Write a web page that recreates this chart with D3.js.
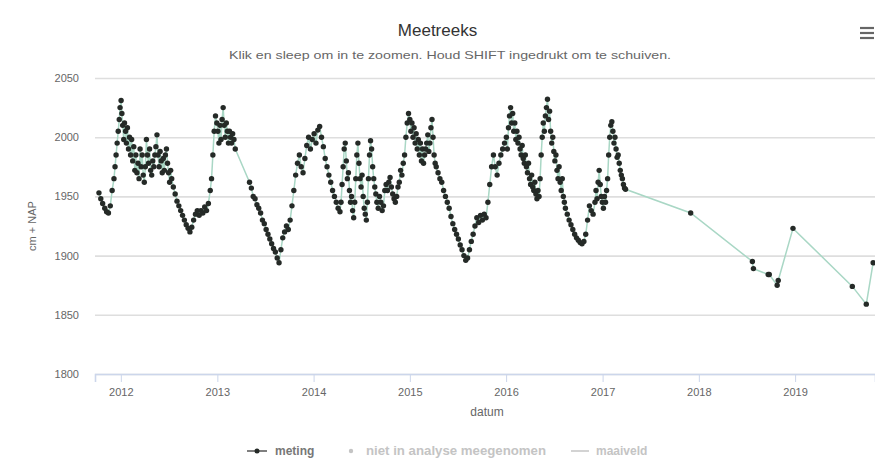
<!DOCTYPE html>
<html>
<head>
<meta charset="utf-8">
<script src="https://cdn.jsdelivr.net/npm/d3@7"></script>
<style>
html,body{margin:0;padding:0;background:#fff;}
svg{display:block;font-family:"Lucida Grande","Lucida Sans Unicode",Arial,Helvetica,sans-serif;}
</style>
</head>
<body>
<svg id="chart" width="875" height="472"></svg>
<script>
// ---- data ----
const chartTitle = "Meetreeks";
const chartSubtitle = "Klik en sleep om in te zoomen. Houd SHIFT ingedrukt om te schuiven.";
const yAxisTitle = "cm + NAP";
const xAxisTitle = "datum";
const legendLabels = ["meting", "niet in analyse meegenomen", "maaiveld"];
const yTicks = [1800, 1850, 1900, 1950, 2000, 2050];
const xTickYears = [2012, 2013, 2014, 2015, 2016, 2017, 2018, 2019];
const xDomain = ["2011-09-25", "2019-10-31"];

// meting: [datum, cm + NAP]
const meting2011_2012 = [
["2011-10-10",1953],["2011-10-17",1948],["2011-10-24",1944],["2011-11-01",1940],["2011-11-08",1937],
["2011-11-15",1936],["2011-11-22",1942],["2011-11-29",1955],["2011-12-06",1965],["2011-12-10",1975],
["2011-12-14",1985],["2011-12-18",1995],["2011-12-22",2005],["2011-12-26",2015],["2011-12-29",2025],
["2012-01-02",2031],["2012-01-05",2020],["2012-01-08",2010],["2012-01-12",1998],["2012-01-15",2012],
["2012-01-19",2005],["2012-01-22",1995],["2012-01-26",2008],["2012-01-30",1990],["2012-02-03",2000],
["2012-02-07",1985],["2012-02-11",1998],["2012-02-15",1980],["2012-02-19",1992],["2012-02-23",1972],
["2012-02-27",1985],["2012-03-02",1970],["2012-03-06",1978],["2012-03-10",1965],["2012-03-14",1990],
["2012-03-18",1975],["2012-03-22",1985],["2012-03-26",1968],["2012-03-30",1962],["2012-04-03",1975],
["2012-04-07",1998],["2012-04-11",1985],["2012-04-15",1978],["2012-04-19",1990],["2012-04-23",1972],
["2012-04-27",1968],["2012-05-01",1980],["2012-05-05",1975],["2012-05-09",1985],["2012-05-13",1992],
["2012-05-17",2002],["2012-05-21",1985],["2012-05-25",1975],["2012-05-29",1988],["2012-06-02",1980],
["2012-06-06",1970],["2012-06-10",1982],["2012-06-14",1972],["2012-06-18",1985],["2012-06-22",1990],
["2012-06-26",1978],["2012-06-30",1970],["2012-07-04",1962],["2012-07-08",1972],["2012-07-12",1965],
["2012-07-18",1958],["2012-07-25",1952],["2012-08-01",1946],["2012-08-08",1942],["2012-08-15",1938],
["2012-08-22",1934],["2012-08-29",1930],["2012-09-05",1926],["2012-09-12",1923],["2012-09-19",1920],
["2012-09-26",1924],["2012-10-03",1930],["2012-10-10",1935],["2012-10-17",1938],["2012-10-24",1934],
["2012-10-31",1938],["2012-11-07",1936],["2012-11-14",1941],["2012-11-21",1938],["2012-11-28",1944],
["2012-12-05",1955],["2012-12-10",1965],["2012-12-15",1985],["2012-12-20",2005],["2012-12-25",2018],
["2012-12-30",2012]
];
const meting2013_2014 = [
["2013-01-03",2005],["2013-01-07",1995],["2013-01-11",2010],["2013-01-15",1998],["2013-01-19",2015],
["2013-01-23",2025],["2013-01-27",2010],["2013-01-31",2000],["2013-02-04",2012],["2013-02-08",2005],
["2013-02-12",1995],["2013-02-16",2005],["2013-02-20",2000],["2013-02-24",1995],["2013-02-28",2003],
["2013-03-05",1998],["2013-03-10",1990],
["2013-05-03",1962],["2013-05-10",1957],["2013-05-17",1950],["2013-05-24",1948],["2013-05-31",1943],
["2013-06-07",1940],["2013-06-14",1936],["2013-06-21",1930],["2013-06-28",1927],["2013-07-05",1922],
["2013-07-12",1918],["2013-07-19",1914],["2013-07-26",1910],["2013-08-02",1906],["2013-08-09",1903],
["2013-08-16",1898],["2013-08-23",1894],["2013-08-30",1905],["2013-09-06",1915],["2013-09-13",1920],
["2013-09-20",1925],["2013-09-27",1922],["2013-10-04",1930],["2013-10-11",1942],["2013-10-18",1955],
["2013-10-25",1968],["2013-11-01",1978],["2013-11-08",1985],["2013-11-15",1975],["2013-11-22",1970],
["2013-11-29",1982],["2013-12-06",1993],["2013-12-13",2000],["2013-12-20",1990],["2013-12-27",1998],
["2014-01-03",2003],["2014-01-10",1995],["2014-01-17",2006],["2014-01-24",2009],["2014-01-31",2000],
["2014-02-07",1992],["2014-02-14",1982],["2014-02-21",1975],["2014-02-28",1968],["2014-03-07",1962],
["2014-03-14",1955],["2014-03-21",1950],["2014-03-28",1945],["2014-04-04",1940],["2014-04-11",1937],
["2014-04-15",1945],["2014-04-19",1960],["2014-04-23",1975],["2014-04-27",1990],["2014-05-01",1995],
["2014-05-05",1980],["2014-05-09",1965],["2014-05-13",1970],["2014-05-17",1955],["2014-05-21",1945],
["2014-05-25",1950],["2014-05-29",1938],["2014-06-02",1932],["2014-06-06",1945],["2014-06-10",1965],
["2014-06-14",1985],["2014-06-18",1995],["2014-06-22",1978],["2014-06-26",1965],["2014-06-30",1958],
["2014-07-04",1968],["2014-07-08",1950],["2014-07-12",1940],["2014-07-16",1935],["2014-07-20",1930],
["2014-07-24",1945],["2014-07-28",1965],["2014-08-01",1985],["2014-08-05",1997],["2014-08-09",1990],
["2014-08-13",1975],["2014-08-17",1965],["2014-08-21",1958],["2014-08-25",1952],["2014-08-29",1945],
["2014-09-03",1940],["2014-09-08",1950],["2014-09-13",1945],["2014-09-18",1938],["2014-09-23",1942],
["2014-09-28",1955],["2014-10-03",1960],["2014-10-08",1955],["2014-10-13",1962],["2014-10-18",1966],
["2014-10-23",1958],["2014-10-28",1952],["2014-11-02",1948],["2014-11-07",1945],["2014-11-12",1950],
["2014-11-17",1958],["2014-11-22",1962],["2014-11-27",1972],["2014-12-02",1968],["2014-12-07",1978],
["2014-12-12",1985],["2014-12-17",2000],["2014-12-22",2012],["2014-12-27",2020]
];
const meting2015_2016 = [
["2015-01-01",2015],["2015-01-05",2005],["2015-01-09",2012],["2015-01-13",2000],["2015-01-17",2008],
["2015-01-21",1995],["2015-01-25",2003],["2015-01-29",1990],["2015-02-02",1998],["2015-02-06",1985],
["2015-02-10",1995],["2015-02-14",1980],["2015-02-18",1990],["2015-02-22",1978],["2015-02-26",1985],
["2015-03-02",1990],["2015-03-06",1995],["2015-03-10",2002],["2015-03-14",1988],["2015-03-18",1995],
["2015-03-22",2008],["2015-03-26",2015],["2015-03-30",2000],["2015-04-03",1985],["2015-04-07",1978],
["2015-04-11",1975],["2015-04-18",1970],["2015-04-25",1965],["2015-05-02",1962],["2015-05-09",1955],
["2015-05-16",1950],["2015-05-23",1945],["2015-05-30",1940],["2015-06-06",1933],["2015-06-13",1927],
["2015-06-20",1922],["2015-06-27",1918],["2015-07-04",1914],["2015-07-11",1909],["2015-07-18",1905],
["2015-07-25",1900],["2015-08-01",1896],["2015-08-08",1898],["2015-08-15",1905],["2015-08-22",1912],
["2015-08-29",1918],["2015-09-05",1925],["2015-09-12",1932],["2015-09-19",1928],["2015-09-26",1934],
["2015-10-03",1930],["2015-10-10",1935],["2015-10-17",1932],["2015-10-24",1945],["2015-10-31",1960],
["2015-11-07",1975],["2015-11-14",1985],["2015-11-21",1975],["2015-11-28",1968],["2015-12-05",1978],
["2015-12-12",1985],["2015-12-19",1990],["2015-12-26",1995],
["2016-01-02",2000],["2016-01-06",1990],["2016-01-10",2008],["2016-01-14",2018],["2016-01-18",2025],
["2016-01-22",2012],["2016-01-26",2020],["2016-01-30",2005],["2016-02-03",2012],["2016-02-07",1998],
["2016-02-11",2005],["2016-02-15",1995],["2016-02-19",2000],["2016-02-23",1990],["2016-02-27",1985],
["2016-03-02",1993],["2016-03-06",1982],["2016-03-10",1978],["2016-03-14",1985],["2016-03-18",1975],
["2016-03-22",1970],["2016-03-26",1978],["2016-03-30",1965],["2016-04-03",1960],["2016-04-07",1968],
["2016-04-11",1958],["2016-04-15",1955],["2016-04-19",1962],["2016-04-23",1952],["2016-04-27",1948],
["2016-05-01",1955],["2016-05-05",1950],["2016-05-09",1965],["2016-05-13",1985],["2016-05-17",2000],
["2016-05-21",2012],["2016-05-25",2005],["2016-05-29",2018],["2016-06-02",2025],["2016-06-06",2032],
["2016-06-10",2015],["2016-06-14",2022],["2016-06-18",2005],["2016-06-22",1995],["2016-06-26",2000],
["2016-06-30",1988],["2016-07-04",1980],["2016-07-08",1985],["2016-07-12",1972],["2016-07-16",1965],
["2016-07-20",1975],["2016-07-24",1962],["2016-07-28",1955],["2016-08-01",1965],["2016-08-05",1950],
["2016-08-09",1945],["2016-08-13",1940],["2016-08-20",1935],["2016-08-27",1930],["2016-09-03",1926],
["2016-09-10",1922],["2016-09-17",1918],["2016-09-24",1915],["2016-10-01",1913],["2016-10-08",1911],
["2016-10-15",1910],["2016-10-22",1912],["2016-10-29",1918],["2016-11-05",1930],["2016-11-12",1942],
["2016-11-19",1938],["2016-11-26",1935],["2016-12-03",1945],["2016-12-07",1955],["2016-12-11",1948],
["2016-12-15",1962],["2016-12-19",1972],["2016-12-23",1960],["2016-12-27",1950],["2016-12-31",1945]
];
const meting2017_2019 = [
["2017-01-04",1940],["2017-01-08",1950],["2017-01-12",1945],["2017-01-16",1955],["2017-01-20",1965],
["2017-01-24",1985],["2017-01-28",2000],["2017-02-01",2010],["2017-02-05",2013],["2017-02-09",2005],
["2017-02-13",1995],["2017-02-17",2000],["2017-02-21",1990],["2017-02-25",1983],["2017-03-01",1985],
["2017-03-05",1978],["2017-03-09",1972],["2017-03-13",1968],["2017-03-17",1965],["2017-03-21",1960],
["2017-03-25",1957],["2017-03-29",1956],
["2017-12-01",1936],["2018-07-23",1895],["2018-07-27",1889],["2018-09-21",1884],["2018-09-25",1884],
["2018-10-25",1875],["2018-10-29",1879],["2018-12-24",1923],["2019-08-06",1874],["2019-09-28",1859],
["2019-10-24",1894]
];

// ---- colours / styles ----
const C = {
  title: "#333333", sub: "#666666", axisText: "#666666", grid: "#dedede",
  axisLine: "#ccd6eb", line: "#a9d7c5", marker: "#252a27",
  legendOn: "#777777", legendOff: "#c4c4c4"
};

const parse = d3.timeParse("%Y-%m-%d");
const meting = [...meting2011_2012, ...meting2013_2014, ...meting2015_2016, ...meting2017_2019]
  .map(d => ({ date: parse(d[0]), value: d[1] }));

const svg = d3.select("#chart");
const plot = { left: 95, right: 875, top: 78, bottom: 374 };

const x = d3.scaleTime().domain(xDomain.map(parse)).range([plot.left, plot.right]);
const y = d3.scaleLinear().domain([yTicks[0], yTicks[yTicks.length - 1]]).range([plot.bottom, plot.top]);

// title & subtitle
svg.append("text").attr("x", 437.5).attr("y", 36).attr("text-anchor", "middle")
  .attr("fill", C.title).attr("font-size", 17).text(chartTitle);
svg.append("text").attr("x", 450).attr("y", 59).attr("text-anchor", "middle")
  .attr("fill", C.sub).attr("font-size", 10.5).attr("textLength", 442).attr("lengthAdjust", "spacingAndGlyphs")
  .text(chartSubtitle);

// menu icon
const menu = svg.append("g").attr("stroke", "#666").attr("stroke-width", 2.2);
[28, 33, 38].forEach(v => menu.append("line").attr("x1", 860).attr("x2", 874).attr("y1", v).attr("y2", v));

// y grid + labels
const yAxis = d3.axisLeft(y).tickValues(yTicks).tickSize(-(plot.right - plot.left)).tickPadding(16).tickFormat(d3.format("d"));
const gy = svg.append("g").attr("transform", `translate(${plot.left},0)`).call(yAxis);
gy.select(".domain").remove();
gy.selectAll(".tick line").attr("stroke", C.grid).attr("stroke-width", 1.6);
gy.selectAll(".tick text").attr("fill", C.axisText).attr("font-size", 11).attr("font-family", "inherit");

// x axis
const xAxis = d3.axisBottom(x).tickValues(xTickYears.map(yr => new Date(yr, 0, 1)))
  .tickFormat(d3.timeFormat("%Y")).tickSize(8).tickPadding(6);
const gx = svg.append("g").attr("transform", `translate(0,${plot.bottom})`).call(xAxis);
gx.select(".domain").attr("stroke", C.axisLine).attr("stroke-width", 1.6);
gx.selectAll(".tick line").attr("stroke", C.axisLine);
gx.selectAll(".tick text").attr("fill", C.axisText).attr("font-size", 11).attr("font-family", "inherit");

// axis titles
svg.append("text").attr("x", 487).attr("y", 416).attr("text-anchor", "middle")
  .attr("fill", C.axisText).attr("font-size", 12).text(xAxisTitle);
svg.append("text").attr("transform", `translate(36,${(plot.top + plot.bottom) / 2}) rotate(-90)`)
  .attr("text-anchor", "middle").attr("fill", C.axisText).attr("font-size", 11).text(yAxisTitle);

// series
svg.append("clipPath").attr("id", "clip").append("rect")
  .attr("x", plot.left - 4).attr("y", plot.top - 6).attr("width", plot.right - plot.left + 8).attr("height", plot.bottom - plot.top + 12);
const series = svg.append("g").attr("clip-path", "url(#clip)");
series.append("path").datum(meting)
  .attr("d", d3.line().x(d => x(d.date)).y(d => y(d.value)))
  .attr("fill", "none").attr("stroke", C.line).attr("stroke-width", 1.5);
series.selectAll("circle").data(meting).join("circle")
  .attr("cx", d => x(d.date)).attr("cy", d => y(d.value)).attr("r", 2.7)
  .attr("fill", C.marker);

// legend
const lg = svg.append("g").attr("font-size", 12).attr("font-weight", "bold");
const ly = 451;
lg.append("line").attr("x1", 247).attr("x2", 267).attr("y1", ly).attr("y2", ly).attr("stroke", "#555").attr("stroke-width", 1.5);
lg.append("circle").attr("cx", 257).attr("cy", ly).attr("r", 2.5).attr("fill", C.marker);
lg.append("text").attr("x", 275).attr("y", ly + 4).attr("fill", C.legendOn).text(legendLabels[0]);
lg.append("circle").attr("cx", 351).attr("cy", ly).attr("r", 2.2).attr("fill", C.legendOff);
lg.append("text").attr("x", 366).attr("y", ly + 4).attr("fill", C.legendOff)
  .attr("textLength", 180).attr("lengthAdjust", "spacingAndGlyphs").text(legendLabels[1]);
lg.append("line").attr("x1", 571).attr("x2", 589).attr("y1", ly).attr("y2", ly).attr("stroke", C.legendOff).attr("stroke-width", 1.5);
lg.append("text").attr("x", 596).attr("y", ly + 4).attr("fill", C.legendOff).text(legendLabels[2]);
</script>
</body>
</html>
